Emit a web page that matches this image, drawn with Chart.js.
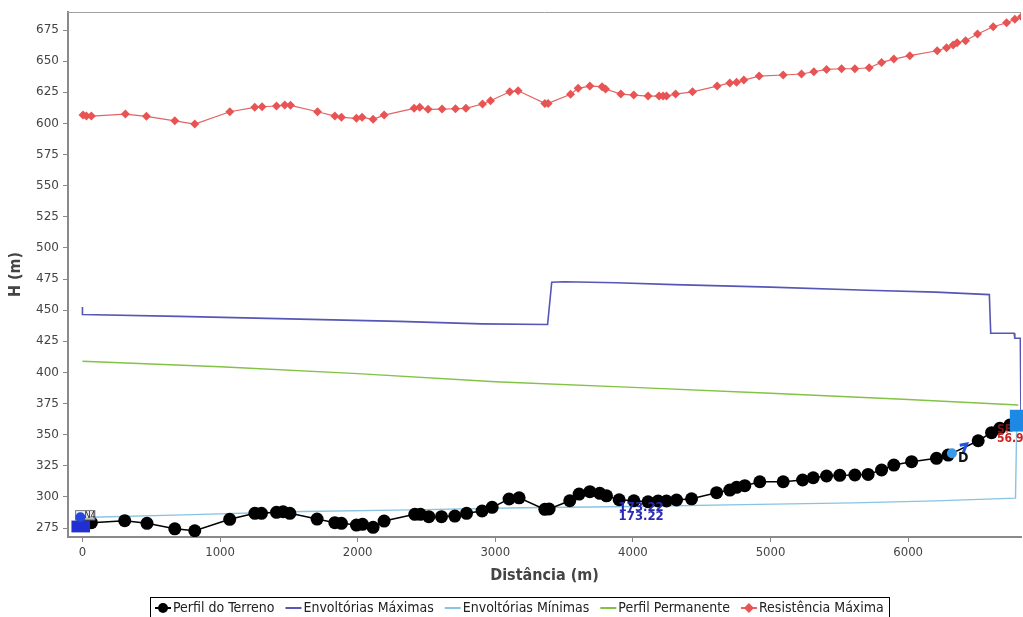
<!DOCTYPE html>
<html>
<head>
<meta charset="utf-8">
<script src="https://cdn.jsdelivr.net/npm/chart.js@4.4.0/dist/chart.umd.min.js"></script>
<style>
  html, body { margin: 0; padding: 0; background: #fff; }
  #wrap { width: 1023px; height: 617px; }
</style>
</head>
<body>
<div id="wrap"><canvas id="perfil"></canvas></div>
<script>
// Perfil do Terreno
const terrenoX = [0, 65, 307, 469, 671, 816, 1070, 1253, 1301, 1410, 1458, 1507, 1705, 1834, 1882, 1991, 2035, 2112,
  2192, 2415, 2456, 2517, 2609, 2706, 2791, 2904, 2977, 3100, 3173, 3360, 3391, 3541, 3609, 3687, 3759, 3808,
  3900, 4007, 4110, 4183, 4244, 4317, 4426, 4608, 4704, 4753, 4813, 4922, 5092, 5233, 5310, 5407, 5503, 5613,
  5709, 5807, 5896, 6025, 6206, 6291, 6509, 6606, 6666, 6739, 6805];
const terrenoH = [279, 279.3, 280.9, 278.8, 274.4, 272.8, 282, 286.8, 286.8, 287.6, 288.1, 286.8, 282.2, 279.3, 278.8, 277.4, 278, 275.6,
  280.6, 286, 286, 284.1, 284.1, 284.6, 286.8, 288.7, 291.6, 298.3, 299.3, 290, 290.3, 296.9, 302.3, 304.2, 302.9, 300.9,
  297.7, 296.9, 296.1, 296.7, 296.7, 297.5, 298.5, 303.4, 305.5, 307.7, 309, 312.2, 312.2, 313.6, 315.4, 316.8, 317.3, 317.6,
  318.1, 321.6, 325.6, 328.3, 331, 333.6, 345.1, 351.6, 355.1, 357.7, 361];

// Envoltórias Máximas
const envMaxX = [0, 0, 700, 1500, 2300, 2900, 3380, 3410, 3500, 3880, 4300, 5000, 5700, 6200, 6590, 6600, 6770, 6775, 6815, 6820];
const envMaxH = [452.5, 446.5, 445, 443, 441, 439, 438.5, 472.5, 472.8, 472, 470.5, 468.5, 466, 464.5, 462.5, 431.5, 431.5, 427.5, 427.5, 362];

// Envoltórias Mínimas
const envMinX = [0, 800, 1600, 2400, 3200, 4000, 4800, 5600, 6200, 6780, 6790];
const envMinH = [283.5, 285.8, 288.3, 289.6, 291.3, 292.3, 293.8, 295.2, 296.8, 299, 366];

// Perfil Permanente
const permX = [0, 1000, 2000, 3000, 4000, 5000, 6000, 6800];
const permH = [409, 404.5, 399, 392.5, 388, 383.3, 378.3, 373.8];

// Resistência Máxima
const resistX = [4, 29, 65, 312, 465, 671, 816, 1071, 1252, 1305, 1410, 1470, 1512, 1708, 1834, 1882, 1991, 2032, 2112, 2192,
  2410, 2451, 2512, 2613, 2711, 2786, 2907, 2965, 3105, 3166, 3360, 3384, 3547, 3602, 3687, 3776, 3801, 3912,
  4006, 4110, 4190, 4219, 4244, 4310, 4433, 4612, 4704, 4753, 4806, 4917, 5092, 5225, 5315, 5407, 5516, 5613,
  5717, 5807, 5896, 6012, 6211, 6279, 6327, 6356, 6417, 6504, 6618, 6715, 6775, 6824];
const resistH = [606.7, 605.9, 605.9, 607.5, 605.7, 602.1, 599.5, 609.4, 612.9, 613.4, 614.0, 614.8, 614.5, 609.4, 605.9, 604.9, 604.1, 604.9, 603.3, 606.7,
  612.1, 612.9, 611.3, 611.5, 611.8, 612.1, 615.6, 618.2, 625.4, 626.2, 616.1, 616.1, 623.4, 628.2, 630.0, 629.5, 627.6, 623.6,
  622.8, 622.0, 622.0, 622.0, 622.0, 623.6, 625.4, 630.0, 632.5, 633.1, 634.8, 638.0, 638.9, 639.7, 641.5, 643.4, 643.9, 643.9,
  644.7, 649.0, 651.7, 654.4, 658.4, 660.8, 663.0, 664.8, 666.4, 671.8, 677.7, 680.9, 683.6, 685.7];

// axis ticks
const xTicks = [0, 1000, 2000, 3000, 4000, 5000, 6000];
const yTicks = [275, 300, 325, 350, 375, 400, 425, 450, 475, 500, 525, 550, 575, 600, 625, 650, 675];

const pts = (xs, ys) => xs.map((x, i) => ({ x: x, y: ys[i] }));

const condensed = '"DejaVu Sans Condensed", "DejaVu Sans", sans-serif';

// frame around the plot
const frame = {
  id: 'frame',
  beforeDatasetsDraw(chart) {
    const { ctx, chartArea: a } = chart;
    ctx.save();
    ctx.strokeStyle = '#a0a0a0';
    ctx.lineWidth = 1;
    ctx.beginPath();
    ctx.moveTo(a.left, a.top + 0.5);
    ctx.lineTo(a.right, a.top + 0.5);
    ctx.stroke();
    ctx.restore();
  }
};

// node labels / reservoirs drawn on top of the series
const marcas = {
  id: 'marcas',
  afterDatasetsDraw(chart) {
    const { ctx } = chart;
    const sx = chart.scales.x, sy = chart.scales.y;
    const px = v => sx.getPixelForValue(v);
    const py = v => sy.getPixelForValue(v);
    ctx.save();

    // reservatório de montante
    ctx.fillStyle = '#1f2fd0';
    ctx.fillRect(px(-80), py(281), px(55) - px(-80), py(271.5) - py(281));
    ctx.fillStyle = 'rgba(235,235,235,0.8)';
    ctx.strokeStyle = '#777';
    ctx.lineWidth = 1;
    ctx.fillRect(px(-50), py(289), px(90) - px(-50), py(281.5) - py(289));
    ctx.strokeRect(px(-50), py(289), px(90) - px(-50), py(281.5) - py(289));
    ctx.fillStyle = '#2646e0';
    ctx.beginPath();
    ctx.arc(px(-15), py(283.7), 5, 0, Math.PI * 2);
    ctx.fill();
    ctx.fillStyle = '#223';
    ctx.font = '9px ' + condensed;
    ctx.textBaseline = 'middle';
    ctx.fillText('N4', px(15), py(285.3));

    // cota no meio
    ctx.fillStyle = '#2a2ab8';
    ctx.font = 'bold 13px ' + condensed;
    ctx.textAlign = 'center';
    ctx.fillText('173.22', px(4060), py(291));
    ctx.fillText('173.22', px(4060), py(284));

    // válvula D
    ctx.fillStyle = '#3a9ae8';
    ctx.beginPath();
    ctx.arc(px(6318), py(335), 5, 0, Math.PI * 2);
    ctx.fill();
    ctx.strokeStyle = '#2255dd';
    ctx.lineWidth = 3;
    ctx.beginPath();
    ctx.moveTo(px(6375), py(341.5));
    ctx.lineTo(px(6425), py(342.5));
    ctx.lineTo(px(6400), py(335.5));
    ctx.stroke();
    ctx.fillStyle = '#111';
    ctx.font = 'bold 14px ' + condensed;
    ctx.fillText('D', px(6400), py(331));

    // reservatório de jusante
    ctx.fillStyle = 'rgba(220,40,40,0.55)';
    ctx.font = 'bold 12px ' + condensed;
    ctx.fillText('SF', px(6700), py(354));
    ctx.fillStyle = '#1e88e5';
    ctx.fillRect(px(6739), py(370), px(6840) - px(6739), py(352.5) - py(370));
    ctx.fillStyle = '#d02020';
    ctx.textAlign = 'left';
    ctx.fillText('56.9', px(6645), py(346.5));
    ctx.restore();
  }
};

// JFreeChart-like legend: bordered box, line + marker icons
const legendaBox = {
  id: 'legendaBox',
  afterDraw(chart) {
    const { ctx } = chart;
    ctx.save();
    ctx.font = '14px ' + condensed;
    const iconW = 16, gapIcon = 2, gapItem = 11, padX = 5;
    const items = chart.data.datasets.map(ds => ({
      label: ds.label, color: ds.borderColor,
      style: ds.pointRadius > 0 ? ds.pointStyle : null, fill: ds.pointBackgroundColor
    }));
    let total = padX * 2;
    items.forEach((it, i) => {
      it.w = ctx.measureText(it.label).width;
      total += iconW + gapIcon + it.w + (i < items.length - 1 ? gapItem : 0);
    });
    const cx = 519, top = 597, h = 20;
    let x = Math.round(cx - total / 2);
    ctx.strokeStyle = '#000';
    ctx.lineWidth = 1;
    ctx.strokeRect(x + 0.5, top + 0.5, Math.round(total), h);
    const my = top + h / 2 + 1;
    x += padX;
    items.forEach(it => {
      ctx.strokeStyle = it.color;
      ctx.lineWidth = 2;
      ctx.beginPath();
      ctx.moveTo(x, my);
      ctx.lineTo(x + iconW, my);
      ctx.stroke();
      const c = x + iconW / 2;
      if (it.style === 'circle') {
        ctx.fillStyle = it.fill;
        ctx.beginPath();
        ctx.arc(c, my, 5, 0, Math.PI * 2);
        ctx.fill();
      } else if (it.style === 'rectRot') {
        ctx.fillStyle = it.fill;
        ctx.beginPath();
        ctx.moveTo(c, my - 5);
        ctx.lineTo(c + 5, my);
        ctx.lineTo(c, my + 5);
        ctx.lineTo(c - 5, my);
        ctx.closePath();
        ctx.fill();
      }
      x += iconW + gapIcon;
      ctx.fillStyle = '#222';
      ctx.textBaseline = 'middle';
      ctx.fillText(it.label, x, my);
      x += it.w + gapItem;
    });
    ctx.restore();
  }
};

const ctx = document.getElementById('perfil').getContext('2d');
new Chart(ctx, {
  type: 'line',
  data: {
    datasets: [
      {
        label: 'Perfil do Terreno',
        data: pts(terrenoX, terrenoH),
        borderColor: '#000',
        backgroundColor: '#000',
        pointBackgroundColor: '#000',
        pointBorderWidth: 0,
        pointStyle: 'circle',
        pointRadius: 6.5,
        borderWidth: 1.5
      },
      {
        label: 'Envoltórias Máximas',
        data: pts(envMaxX, envMaxH),
        borderColor: '#5656b4',
        pointRadius: 0,
        borderWidth: 1.6
      },
      {
        label: 'Envoltórias Mínimas',
        data: pts(envMinX, envMinH),
        borderColor: '#88c4e2',
        pointRadius: 0,
        borderWidth: 1.4
      },
      {
        label: 'Perfil Permanente',
        data: pts(permX, permH),
        borderColor: '#82c244',
        pointRadius: 0,
        borderWidth: 1.4
      },
      {
        label: 'Resistência Máxima',
        data: pts(resistX, resistH),
        borderColor: '#e26464',
        backgroundColor: '#e85454',
        pointBackgroundColor: '#e85454',
        pointBorderWidth: 0,
        pointStyle: 'rectRot',
        pointRadius: 4.5,
        borderWidth: 1.2
      }
    ]
  },
  options: {
    responsive: true,
    maintainAspectRatio: false,
    animation: false,
    layout: { autoPadding: false, padding: { top: 12, right: 2, left: 0, bottom: 30 } },
    plugins: {
      legend: { display: false },
      tooltip: { enabled: false }
    },
    elements: { line: { tension: 0 } },
    scales: {
      x: {
        type: 'linear',
        min: -105,
        max: 6820,
        afterFit(scale) { scale.height = 50; },
        afterBuildTicks(scale) { scale.ticks = xTicks.map(v => ({ value: v })); },
        grid: { drawOnChartArea: false, drawTicks: true, tickLength: 5, color: '#888' },
        border: { color: '#8a8a8a', width: 2 },
        ticks: { padding: 3, color: '#444', autoSkip: false, callback: v => String(v), font: { size: 13, family: condensed } },
        title: { display: true, text: 'Distância (m)', color: '#444', font: { size: 16, weight: 'bold', family: condensed }, padding: { top: 4, bottom: 2 } }
      },
      y: {
        min: 267.8,
        max: 689.5,
        afterFit(scale) { scale.width = 68; },
        afterBuildTicks(scale) { scale.ticks = yTicks.map(v => ({ value: v })); },
        grid: { drawOnChartArea: false, drawTicks: true, tickLength: 5, color: '#888' },
        border: { color: '#8a8a8a', width: 2 },
        ticks: { padding: 4, color: '#444', autoSkip: false, font: { size: 12, family: '"DejaVu Sans", sans-serif' } },
        title: { display: true, text: 'H (m)', color: '#444', font: { size: 16, weight: 'bold', family: condensed }, padding: { top: 6, bottom: 0 } }
      }
    }
  },
  plugins: [frame, marcas, legendaBox]
});
</script>
</body>
</html>
